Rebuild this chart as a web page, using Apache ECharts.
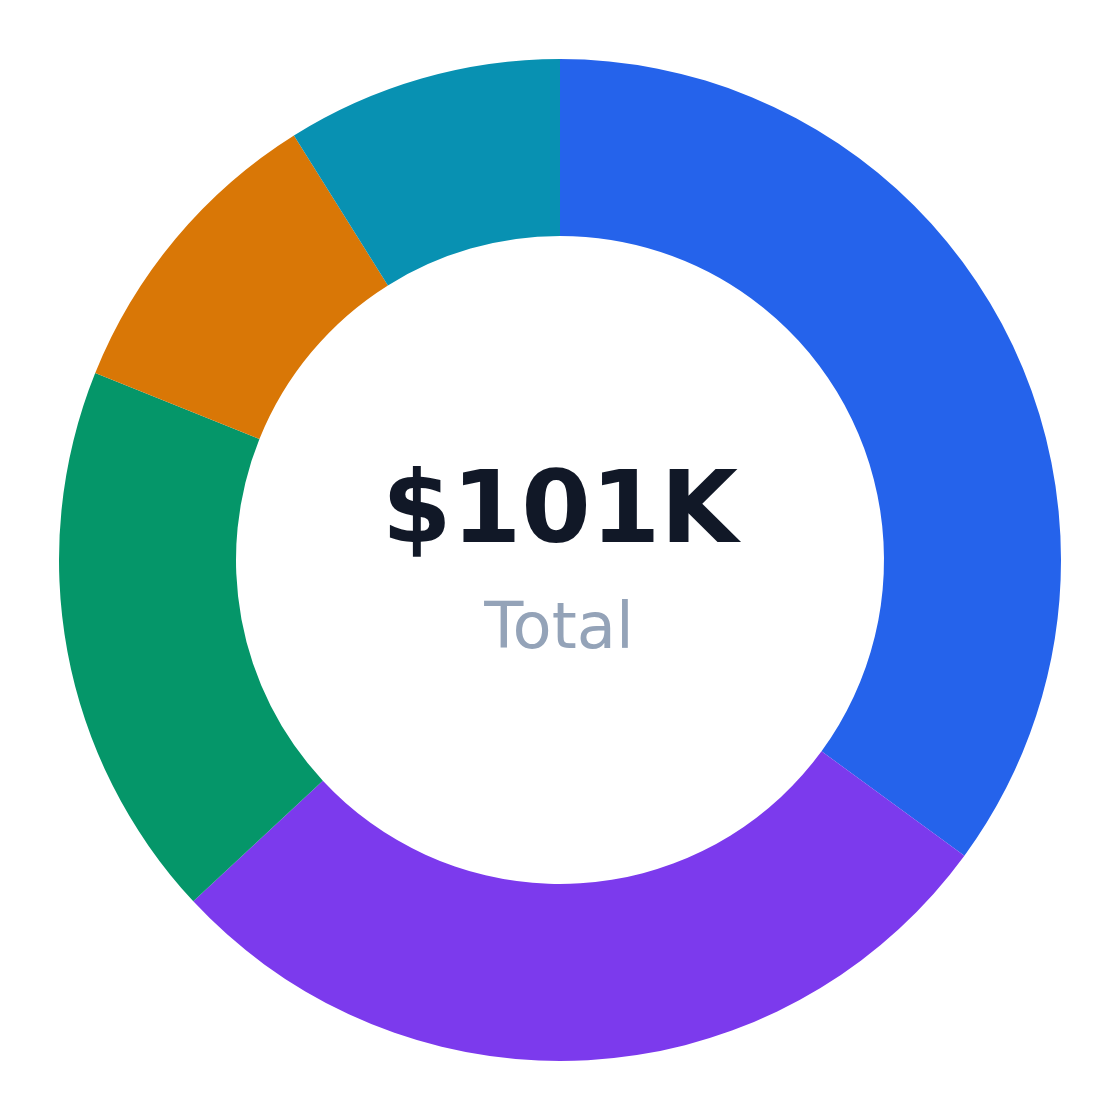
<!DOCTYPE html>
<html>
<head>
<meta charset="utf-8">
<script src="https://cdn.jsdelivr.net/npm/echarts@6/dist/echarts.min.js"></script>
<style>html,body{margin:0;padding:0;background:#fff}#chart{width:1120px;height:1120px}</style>
</head>
<body>
<div id="chart"></div>
<script>
const categories = ['Blue', 'Purple', 'Green', 'Orange', 'Teal'];
const values = [35.4, 28.3, 18.2, 10.1, 9.0];
const colors = ['#2563eb', '#7c3aed', '#059669', '#d97706', '#0891b2'];
const centerValue = '$101K';
const centerLabel = 'Total';

const chart = echarts.init(document.getElementById('chart'), null, {renderer: 'canvas'});
chart.setOption({
  animation: false,
  backgroundColor: '#ffffff',
  series: [{
    type: 'pie',
    center: [560, 560],
    radius: [324, 501],
    startAngle: 90,
    clockwise: true,
    avoidLabelOverlap: false,
    label: {show: false},
    labelLine: {show: false},
    itemStyle: {borderWidth: 0},
    emphasis: {disabled: true},
    data: categories.map((c, i) => ({name: c, value: values[i], itemStyle: {color: colors[i]}}))
  }],
  graphic: [
    {type: 'text', x: 560, y: 516, style: {text: centerValue, fill: '#111827', font: 'bold 100px "DejaVu Sans"', textAlign: 'center', textVerticalAlign: 'middle'}},
    {type: 'text', x: 559, y: 631, style: {text: centerLabel, fill: '#94a3b8', font: '64px "DejaVu Sans"', textAlign: 'center', textVerticalAlign: 'middle'}}
  ]
});
</script>
</body>
</html>
